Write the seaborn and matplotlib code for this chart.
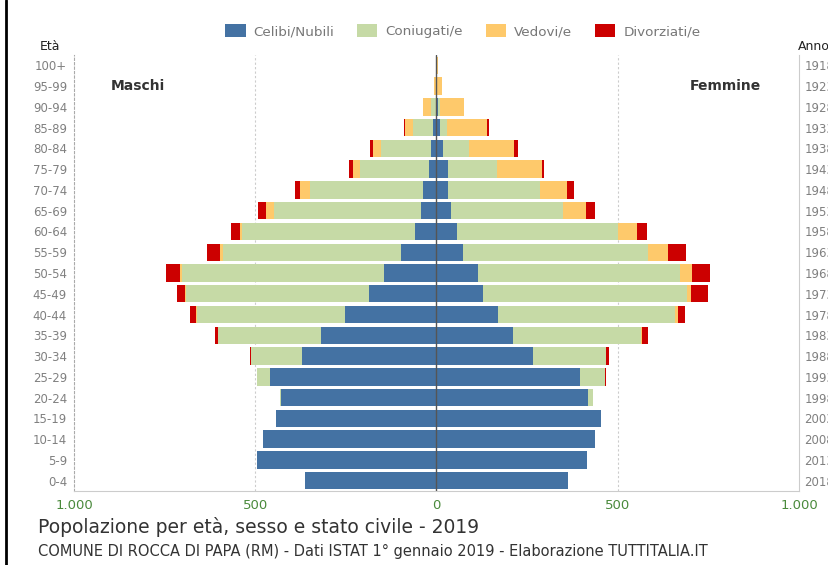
import matplotlib
matplotlib.use("Agg")
import matplotlib.pyplot as plt
from matplotlib.patches import Patch
from matplotlib.lines import Line2D
import seaborn as sns
import pandas as pd

# ----------------------------------------------------
# Data
# ----------------------------------------------------
ages = ["100+", "95-99", "90-94", "85-89", "80-84", "75-79", "70-74",
        "65-69", "60-64", "55-59", "50-54", "45-49", "40-44", "35-39",
        "30-34", "25-29", "20-24", "15-19", "10-14", "5-9", "0-4"]
years = ["1918", "1923", "1928", "1933", "1938", "1943", "1948",
         "1953", "1958", "1963", "1968", "1973", "1978", "1983",
         "1988", "1993", "1998", "2003", "2008", "2013", "2018"]

m_celibi = [0, 0, 2, 10, 16, 22, 38, 44, 59, 99, 146, 185, 252, 320, 371, 460, 428, 442, 478, 494, 363]
m_coniugati = [0, 1, 14, 55, 138, 188, 310, 404, 478, 491, 555, 505, 409, 282, 140, 35, 3, 0, 0, 0, 0]
m_vedovi = [1, 6, 21, 23, 21, 20, 29, 21, 5, 7, 7, 5, 2, 1, 0, 1, 0, 0, 0, 0, 0]
m_divorziati = [0, 0, 0, 1, 9, 12, 12, 23, 25, 37, 37, 20, 16, 7, 3, 0, 0, 0, 0, 0, 0]

f_celibi = [0, 1, 4, 10, 19, 31, 31, 40, 57, 72, 114, 128, 169, 210, 267, 395, 419, 455, 438, 415, 363]
f_coniugati = [0, 1, 7, 20, 70, 136, 255, 309, 445, 512, 558, 562, 490, 355, 200, 71, 12, 0, 0, 0, 0]
f_vedovi = [3, 12, 64, 110, 124, 124, 73, 64, 52, 55, 32, 11, 6, 1, 0, 0, 2, 0, 0, 0, 0]
f_divorziati = [0, 0, 0, 4, 11, 6, 21, 24, 26, 50, 50, 48, 20, 18, 8, 1, 0, 0, 0, 0, 0]

statuses = ["Celibi/Nubili", "Coniugati/e", "Vedovi/e", "Divorziati/e"]
colors = ["#4472a3", "#c6daa6", "#fec96b", "#cc0000"]

FONT = "DejaVu Sans"
TICK_GRAY = "#808080"
DARK = "#333333"


def build_frame():
    rows = []
    males = [m_celibi, m_coniugati, m_vedovi, m_divorziati]
    females = [f_celibi, f_coniugati, f_vedovi, f_divorziati]
    for i, age in enumerate(ages):
        m_cum = 0
        f_cum = 0
        for status, m_vals, f_vals in zip(statuses, males, females):
            m_cum += m_vals[i]
            f_cum += f_vals[i]
            rows.append({"age": age, "sex": "M", "status": status, "value": -m_cum})
            rows.append({"age": age, "sex": "F", "status": status, "value": f_cum})
    return pd.DataFrame(rows)


def main():
    sns.set_style("white")
    plt.rcParams["font.family"] = [FONT]

    df = build_frame()

    fig = plt.figure(figsize=(8.29, 5.65), dpi=100)
    ax = fig.add_axes([74 / 829, 1 - 491 / 565, (799 - 74) / 829, (491 - 55) / 565])

    # draw stacked layers from outermost (cumulative total) to innermost
    for status, color in reversed(list(zip(statuses, colors))):
        sub = df[df["status"] == status]
        sns.barplot(data=sub, x="value", y="age", hue="sex", order=ages,
                    palette={"M": color, "F": color}, dodge=False,
                    orient="h", width=0.84, linewidth=0, saturation=1,
                    errorbar=None, legend=False, ax=ax)

    ax.set_xlim(-1000, 1000)
    ax.set_ylim(20.5, -0.5)
    ax.set_xlabel("")
    ax.set_ylabel("")

    ax.set_xticks([-1000, -500, 0, 500, 1000])
    ax.set_xticklabels(["1.000", "500", "0", "500", "1.000"])
    ax.tick_params(axis="x", length=0, pad=6, labelsize=9.5, labelcolor="#4a8a3c")
    ax.tick_params(axis="y", length=0, pad=5, labelsize=8.5, labelcolor=TICK_GRAY)

    # grid lines and zero line
    for xv in (-500, 500):
        ax.axvline(xv, color="#cccccc", lw=0.8, ls=(0, (2, 2)), zorder=0)
    ax.axvline(0, color="#555555", lw=1.0, zorder=5)

    ax.spines["top"].set_visible(False)
    ax.spines["left"].set_color("#aaaaaa")
    ax.spines["left"].set_linestyle((0, (2, 2)))
    ax.spines["left"].set_linewidth(0.8)
    ax.spines["right"].set_color("#cccccc")
    ax.spines["right"].set_linewidth(0.8)
    ax.spines["bottom"].set_color("#cccccc")
    ax.spines["bottom"].set_linewidth(0.8)

    # right axis: birth years (cut by the figure edge, as in the original)
    ax2 = ax.twinx()
    ax2.set_ylim(ax.get_ylim())
    ax2.set_yticks(range(len(years)))
    ax2.set_yticklabels(years)
    ax2.tick_params(axis="y", length=0, pad=4, labelsize=8.5, labelcolor=TICK_GRAY)
    for side in ("top", "left", "bottom", "right"):
        ax2.spines[side].set_visible(False)

    # labels inside the plot
    ax.text(-900, 1, "Maschi", fontsize=10, fontweight="bold", color=DARK,
            va="center", ha="left")
    ax.text(895, 1, "Femmine", fontsize=10, fontweight="bold", color=DARK,
            va="center", ha="right")

    fig.text(50 / 829, 1 - 47 / 565, "Età", fontsize=9, color="#222222",
             ha="center", va="center")
    fig.text(798 / 829, 1 - 47 / 565, "Anno", fontsize=9, color="#222222",
             ha="left", va="center")

    # legend
    handles = [Patch(facecolor=c, edgecolor="none", label=s) for s, c in zip(statuses, colors)]
    fig.legend(handles=handles, loc="center", bbox_to_anchor=(463 / 829, 1 - 31 / 565),
               ncol=4, frameon=False, fontsize=9.7, handlelength=1.5, handleheight=1.1,
               columnspacing=1.7, handletextpad=0.6, labelcolor="#777777")

    # titles
    fig.text(38 / 829, 1 - 527 / 565, "Popolazione per età, sesso e stato civile - 2019",
             fontsize=13.5, color=DARK, ha="left", va="center")
    fig.text(38 / 829, 1 - 551 / 565,
             "COMUNE DI ROCCA DI PAPA (RM) - Dati ISTAT 1° gennaio 2019 - Elaborazione TUTTITALIA.IT",
             fontsize=10.5, color=DARK, ha="left", va="center")

    # black border on the left edge
    fig.add_artist(Line2D([6 / 829, 6 / 829], [0, 1], transform=fig.transFigure,
                          color="black", lw=2))

    fig.savefig("out.png", dpi=100)
    plt.close(fig)


if __name__ == "__main__":
    main()
